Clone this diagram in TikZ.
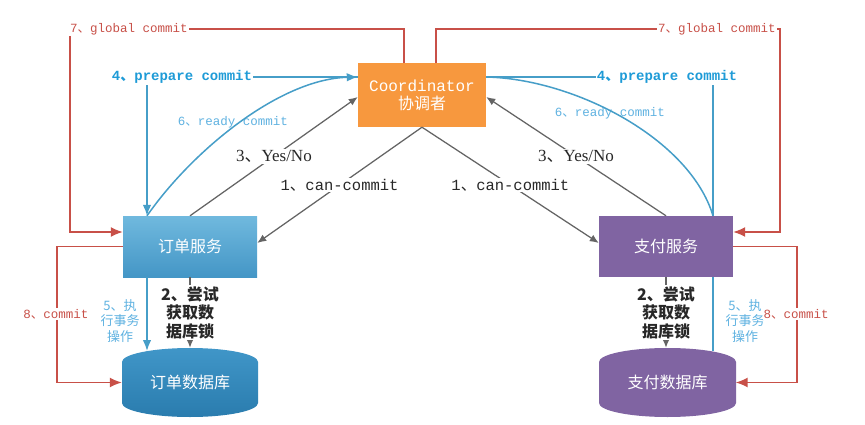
\documentclass[tikz,border=0pt]{standalone}
\usepackage{fontspec}
\newfontfamily\cjk{Noto Sans CJK SC}
\newfontfamily\lserif{Liberation Serif}
\newfontfamily\lmono{Liberation Mono}
\usetikzlibrary{arrows.meta,calc}
\definecolor{cred}{RGB}{200,80,72}
\definecolor{cbluet}{RGB}{30,155,215}
\definecolor{cbluel}{RGB}{70,158,200}
\definecolor{cblue6}{RGB}{95,178,225}
\definecolor{cgray}{RGB}{100,100,100}
\definecolor{ctext}{RGB}{40,40,40}
\definecolor{corange}{RGB}{247,152,62}
\definecolor{cpurple}{RGB}{128,100,162}
\definecolor{cboxtop}{RGB}{112,185,222}
\definecolor{cboxbot}{RGB}{68,150,198}
\definecolor{cdbtop}{RGB}{64,150,200}
\definecolor{cdbbot}{RGB}{42,124,174}
\newcommand{\dun}{{\cjk 、}}
\tikzset{
  redl/.style={draw=cred,line width=1.5pt},
  bluel/.style={draw=cbluel,line width=1.5pt},
  grayl/.style={draw=cgray,line width=1.25pt},
  redtip/.style={-{Latex[length=12pt,width=10pt]}},
  bluetip/.style={-{Latex[length=11pt,width=8.5pt]}},
  graytip/.style={-{Latex[length=9pt,width=7.5pt]}},
  coordbox/.style={fill=corange,minimum width=128pt,minimum height=64pt,inner sep=0pt,align=center,text=white,font=\fontsize{16}{18}\selectfont},
  svcbox/.style={minimum width=134pt,minimum height=61pt,inner sep=0pt,text=white,font=\cjk\fontsize{16}{18}\selectfont},
  dbbox/.style={minimum width=136pt,minimum height=69pt,inner sep=0pt,text=white,font=\cjk\fontsize{16}{18}\selectfont},
  lab7/.style={fill=white,inner sep=1pt,text=cred,font=\lmono\fontsize{12.5}{14}\selectfont},
  lab8/.style={fill=white,inner sep=1pt,text=cred,font=\lmono\fontsize{12.5}{14}\selectfont},
  lab4/.style={fill=white,inner sep=1pt,text=cbluet,font=\lmono\bfseries\fontsize{14}{16}\selectfont},
  lab6/.style={inner sep=1pt,text=cblue6,font=\lmono\fontsize{12.5}{14}\selectfont},
  lab3/.style={fill=white,inner sep=1pt,text=ctext,font=\lserif\fontsize{17}{19}\selectfont},
  lab1/.style={fill=white,inner sep=1pt,text=ctext,font=\lmono\fontsize{15.5}{17}\selectfont},
  lab2/.style={fill=white,inner sep=1pt,text=ctext,align=center,font=\cjk\bfseries\fontsize{16}{18.5}\selectfont},
  lab5/.style={inner sep=1pt,text=cblue6,align=center,font=\cjk\fontsize{13}{15.5}\selectfont},
}
\begin{document}
\begin{tikzpicture}[x=1pt,y=1pt]
\useasboundingbox (0,0) rectangle (865,424);
\fill[white] (0,0) rectangle (865,424);

% databases (shapes)
\shade[top color=cdbtop,bottom color=cdbbot] (122,62) -- (122,21) arc[start angle=180,end angle=360,x radius=68,y radius=14] -- (258,62) arc[start angle=0,end angle=180,x radius=68,y radius=14] -- cycle;
\fill[cpurple] (599,62) -- (599,21) arc[start angle=180,end angle=360,x radius=68.5,y radius=14] -- (736,62) arc[start angle=0,end angle=180,x radius=68.5,y radius=14] -- cycle;

% nodes
\node[coordbox] (co) at (422,329) {{\lmono Coordinator}\\{\cjk 协调者}};
\node[svcbox,top color=cboxtop,bottom color=cboxbot] (sL) at (190,177.5) {订单服务};
\node[svcbox,fill=cpurple] (sR) at (666,177.5) {支付服务};
\node[dbbox] (dL) at (190,41.5) {订单数据库};
\node[dbbox] (dR) at (667.5,41.5) {支付数据库};
\coordinate (d5L) at (147,73);
\coordinate (d5R) at (713,73);

% 7 global commit
\draw[redl,redtip] ([xshift=-18pt]co.north) |- (70,395) -- (70,192) -- ([yshift=14.5pt]sL.west);
\node[lab7] at (129,395) {7\dun global commit};
\draw[redl,redtip] ([xshift=14pt]co.north) |- (780,395) -- (780,192) -- ([yshift=14.5pt]sR.east);
\node[lab7] at (717,395) {7\dun global commit};

% 4 prepare commit
\draw[bluel,bluetip] ([yshift=18pt]co.west) -- (147,347) -- ([xshift=-43pt]sL.north);
\node[lab4] at (182,347) {4\dun prepare commit};
\draw[bluel] ([yshift=18pt]co.east) -- (713,347) -- ([xshift=47pt]sR.north);
\node[lab4] at (667,347) {4\dun prepare commit};

% 6 ready commit
\node[lab6] at (233,302) {6\dun ready commit};
\node[lab6] at (610,311) {6\dun ready commit};
\draw[bluel,bluetip] ([xshift=-43pt]sL.north) .. controls (193,274) and (280,345) .. ([yshift=18pt]co.west);
\draw[bluel] ([yshift=18pt]co.east) .. controls (575,345) and (690,285) .. ([xshift=47pt]sR.north);

% 3 Yes/No
\draw[grayl,graytip] (sL.north) -- node[lab3,pos=0.5]{3\dun Yes/No} ([yshift=-2pt]co.west);
\draw[grayl,graytip] (sR.north) -- node[lab3,pos=0.5]{3\dun Yes/No} ([yshift=-2pt]co.east);

% 1 can-commit
\draw[grayl,graytip] (co.south) -- node[lab1,pos=0.5]{1\dun can-commit} ([yshift=3.5pt]sL.east);
\draw[grayl,graytip] (co.south) -- node[lab1,pos=0.5]{1\dun can-commit} ([yshift=3.5pt]sR.west);

% 2 lock
\draw[grayl,graytip] (sL.south) -- node[lab2,midway]{2\dun 尝试\\获取数\\据库锁} (sL.south |- dL.north);
\draw[grayl,graytip] (sR.south) -- node[lab2,midway]{2\dun 尝试\\获取数\\据库锁} (sR.south |- dR.north);

% 5 execute
\draw[bluel,bluetip] ([xshift=-43pt]sL.south) -- (d5L);
\node[lab5] at (120,103) {5\dun 执\\行事务\\操作};
\draw[bluel] ([xshift=47pt]sR.south) -- (d5R);
\node[lab5] at (745,103) {5\dun 执\\行事务\\操作};

% 8 commit
\draw[redl,redtip] (sL.west) -- (57,177.5) -- (57,41.5) -- (dL.west);
\node[lab8] at (56,110) {8\dun commit};
\draw[redl,redtip] (sR.east) -- (797,177.5) -- (797,41.5) -- (dR.east);
\node[lab8] at (796,110) {8\dun commit};
\end{tikzpicture}
\end{document}
